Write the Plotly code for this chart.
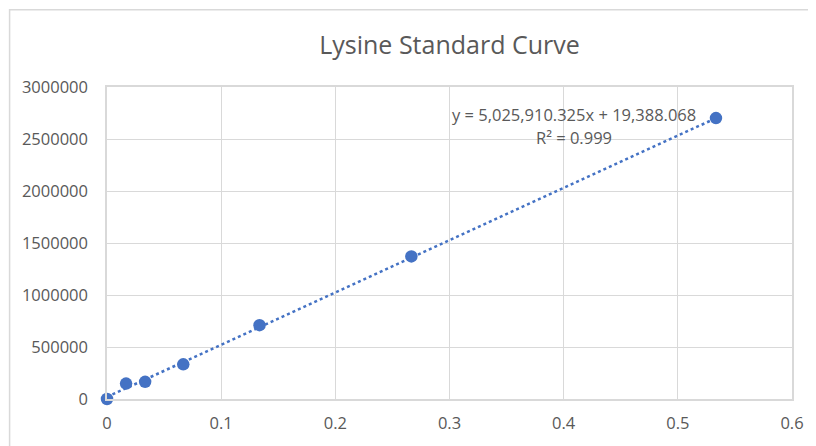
import plotly.graph_objects as go

# Data
concentration = [0.0, 0.0167, 0.0334, 0.0668, 0.1336, 0.2666, 0.5334]
peak_area = [0, 148600, 165000, 333000, 710000, 1371000, 2701000]

slope = 5025910.325
intercept = 19388.068
r_squared = 0.999

title_text = "Lysine Standard Curve"
x_ticks = [0, 0.1, 0.2, 0.3, 0.4, 0.5, 0.6]
y_ticks = [0, 500000, 1000000, 1500000, 2000000, 2500000, 3000000]

blue = "#4472C4"
grid = "#d9d9d9"
text_col = "#595959"
font_family = "Open Sans"

x_min, x_max = min(concentration), max(concentration)
trend_x = [x_min, x_max]
trend_y = [slope * v + intercept for v in trend_x]

fig = go.Figure()
fig.add_trace(go.Scatter(
    x=trend_x, y=trend_y, mode="lines",
    line=dict(color=blue, width=2.5, dash="dot"),
    hoverinfo="skip", showlegend=False, cliponaxis=False,
))
fig.add_trace(go.Scatter(
    x=concentration, y=peak_area, mode="markers",
    marker=dict(color=blue, size=12.5),
    showlegend=False, cliponaxis=False,
))

eq_text = f"y = {slope:,.3f}x + {intercept:,.3f}"
fig.add_annotation(x=0.4094, y=2733000, xref="x", yref="y", text=eq_text,
                   showarrow=False, font=dict(size=16.5, color=text_col, family=font_family))
fig.add_annotation(x=0.4094, y=2512000, xref="x", yref="y", text="R² = " + f"{r_squared}",
                   showarrow=False, font=dict(size=16.5, color=text_col, family=font_family))

# chart outer border
fig.add_shape(type="rect", xref="paper", yref="paper",
              x0=-0.1422, y0=-0.5, x1=1.3, y1=1.2476,
              line=dict(color=grid, width=1.5), fillcolor="rgba(0,0,0,0)", layer="below")

# page body has an 8px margin, so the figure is 8px smaller and offset
fig.update_layout(
    width=808, height=438,
    margin=dict(l=99, r=20, t=79, b=44),
    paper_bgcolor="white", plot_bgcolor="white",
    title=dict(text=title_text, x=0.5, xanchor="center", xref="paper",
               y=1 - 37 / 438, yanchor="middle",
               font=dict(size=25, color=text_col, family=font_family)),
    font=dict(family=font_family, color=text_col, size=16),
)
fig.update_xaxes(range=[0, 0.6], tickvals=x_ticks, ticktext=[f"{v:g}" for v in x_ticks],
                 showgrid=True, gridcolor=grid, gridwidth=1,
                 showline=True, linecolor=grid, linewidth=1.5, mirror=True,
                 ticks="outside", ticklen=8, tickcolor="rgba(0,0,0,0)",
                 zeroline=False, tickfont=dict(size=16.5, color=text_col))
fig.update_yaxes(range=[0, 3000000], tickvals=y_ticks, ticktext=[str(v) for v in y_ticks],
                 showgrid=True, gridcolor=grid, gridwidth=1,
                 showline=True, linecolor=grid, linewidth=1.5, mirror=True,
                 ticks="outside", ticklen=14, tickcolor="rgba(0,0,0,0)",
                 zeroline=False, tickfont=dict(size=16.5, color=text_col))

fig.write_html("out.html")
